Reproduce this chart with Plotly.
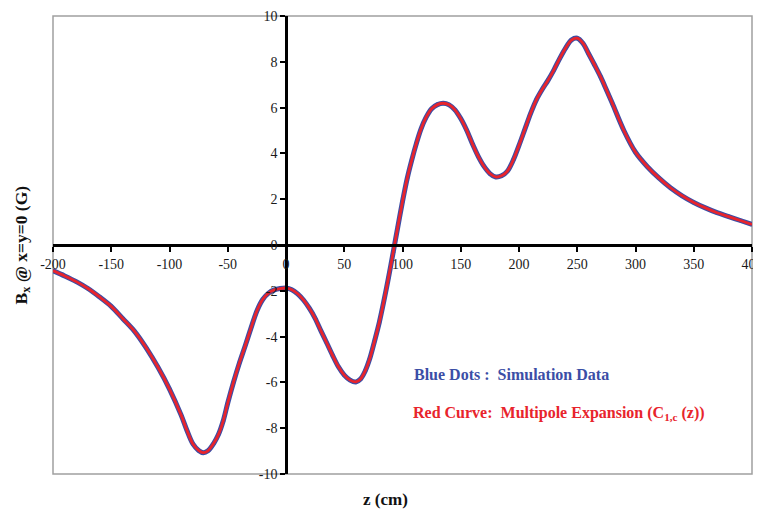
import plotly.graph_objects as go

# z positions (cm) and field values (G)
z_cm = [-200, -190, -180, -170, -160, -150, -140, -130, -120, -110, -100, -90, -85, -80,
        -75, -71, -67, -62, -58, -54, -50, -45, -40, -35, -30, -25, -20, -15, -10, -5,
        0, 5, 10, 15, 20, 25, 30, 35, 40, 45, 50, 55, 60, 64, 68, 72, 76, 80, 84, 88,
        92, 96, 100, 104, 108, 112, 116, 120, 125, 130, 135, 140, 145, 150, 155, 160,
        165, 170, 175, 180, 185, 190, 195, 200, 205, 210, 215, 220, 225, 230, 235, 240,
        245, 250, 255, 260, 265, 270, 275, 280, 290, 300, 310, 320, 330, 340, 350,
        360, 370, 380, 390, 400]
bx_sim = [-1.12, -1.35, -1.60, -1.90, -2.27, -2.68, -3.22, -3.77, -4.49, -5.33, -6.29,
          -7.43, -8.10, -8.68, -8.97, -9.07, -8.99, -8.66, -8.28, -7.70, -6.90, -5.98,
          -5.15, -4.40, -3.62, -2.88, -2.38, -2.10, -1.96, -1.90, -1.88, -1.95, -2.13,
          -2.40, -2.76, -3.20, -3.75, -4.28, -4.82, -5.32, -5.68, -5.90, -5.98, -5.85,
          -5.50, -4.95, -4.20, -3.40, -2.45, -1.42, -0.32, 0.80, 1.90, 2.90, 3.72, 4.45,
          5.08, 5.55, 5.95, 6.13, 6.19, 6.12, 5.90, 5.52, 5.02, 4.42, 3.87, 3.43, 3.12,
          2.97, 3.02, 3.22, 3.70, 4.35, 5.05, 5.75, 6.35, 6.80, 7.20, 7.65, 8.15, 8.60,
          8.95, 9.03, 8.80, 8.33, 7.85, 7.35, 6.78, 6.20, 5.00, 4.05, 3.43, 2.93,
          2.50, 2.15, 1.86, 1.62, 1.41, 1.24, 1.07, 0.90]
bx_fit = bx_sim

x_ticks = [-200, -150, -100, -50, 0, 50, 100, 150, 200, 250, 300, 350, 400]
y_ticks = [-10, -8, -6, -4, -2, 0, 2, 4, 6, 8, 10]

fig = go.Figure()
fig.add_trace(go.Scatter(
    x=z_cm, y=bx_sim, mode="lines+markers", name="Simulation Data",
    line=dict(color="#3b4ea6", width=5, shape="spline", smoothing=0.9),
    marker=dict(color="#3b4ea6", size=4),
))
fig.add_trace(go.Scatter(
    x=z_cm, y=bx_fit, mode="lines", name="Multipole Expansion",
    line=dict(color="#e8242c", width=2.8, shape="spline", smoothing=0.9),
))

tick_font = dict(family="Liberation Serif", size=14, color="#1a1a1a")

fig.update_layout(
    width=753, height=506,
    margin=dict(l=45, r=9, t=8, b=40, autoexpand=False),
    paper_bgcolor="white", plot_bgcolor="white",
    showlegend=False,
    xaxis=dict(
        range=[-200, 400], tickvals=x_ticks, ticktext=[str(v) for v in x_ticks],
        showgrid=False, zeroline=False, showline=True, linecolor="black", linewidth=2.5,
        ticks="outside", ticklen=5, tickwidth=2, tickcolor="black",
        anchor="free", position=0.5, tickfont=tick_font, ticklabeloverflow="allow",
        automargin=False,
    ),
    yaxis=dict(
        range=[-10, 10], tickvals=y_ticks, ticktext=[str(v) for v in y_ticks],
        showgrid=False, zeroline=False, showline=True, linecolor="black", linewidth=2.5,
        ticks="outside", ticklen=5, tickwidth=2, tickcolor="black",
        anchor="free", position=1/3, tickfont=tick_font, automargin=False,
    ),
    shapes=[dict(type="rect", xref="paper", yref="paper", x0=0, y0=0, x1=1, y1=1,
                 line=dict(color="#a0a0a0", width=1.5), layer="below")],
    annotations=[
        dict(text="<b>Blue Dots :  Simulation Data</b>", xref="paper", yref="paper",
             x=0.514, y=0.218, xanchor="left", yanchor="middle", showarrow=False,
             font=dict(family="Liberation Serif", size=16, color="#3b4ea6")),
        dict(text="<b>Red Curve:  Multipole Expansion (C<sub>1,c</sub> (z))</b>",
             xref="paper", yref="paper", x=0.512, y=0.133, xanchor="left",
             yanchor="middle", showarrow=False,
             font=dict(family="Liberation Serif", size=16, color="#e8242c")),
        dict(text="<b>z (cm)</b>", xref="paper", yref="paper", x=0.475, y=-0.055,
             xanchor="center", yanchor="middle", showarrow=False,
             font=dict(family="Liberation Serif", size=17, color="#111111")),
        dict(text="<b>B<sub>x</sub> @ x=y=0 (G)</b>", xref="paper", yref="paper",
             x=-0.045, y=0.5, xanchor="center", yanchor="middle", textangle=-90,
             showarrow=False,
             font=dict(family="Liberation Serif", size=17.5, color="#111111")),
    ],
)

fig.write_html("out.html")
